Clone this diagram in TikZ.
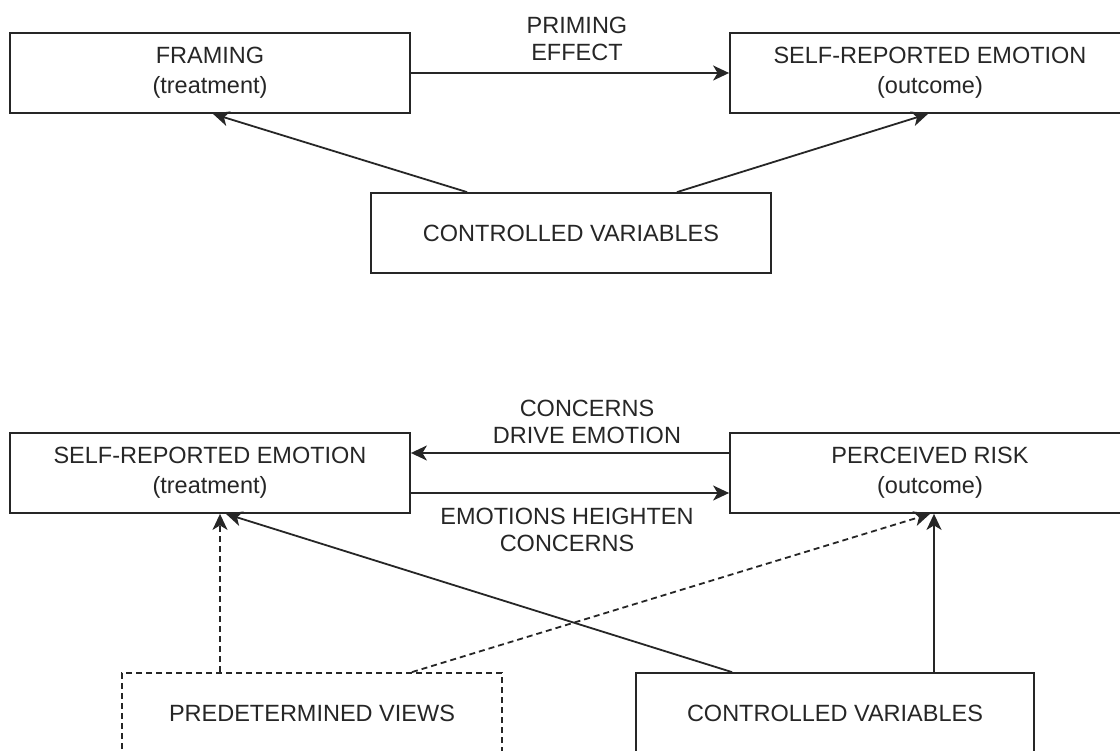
\documentclass[tikz,border=0pt]{standalone}
\usepackage{fontspec}
\setmainfont{Liberation Sans}
\usetikzlibrary{arrows.meta,calc}
\definecolor{ink}{HTML}{262626}
\begin{document}
\begin{tikzpicture}[x=1pt,y=-1pt,
  box/.style={draw=ink,line width=1.8pt,rectangle,minimum width=400pt,minimum height=80pt,
    align=center,inner sep=0pt,text=ink,font=\fontsize{23.5}{30}\selectfont},
  lbl/.style={align=center,text=ink,font=\fontsize{23.5}{27}\selectfont,inner sep=0pt},
  link/.style={draw=ink,line width=1.8pt,-{Stealth[length=16pt,width=15pt,inset=4.5pt]}},
  dlink/.style={link,dash pattern=on 6pt off 4pt}]
\useasboundingbox (0,0) rectangle (1120,751);
\clip (0,0) rectangle (1120,751);
\fill[white] (0,0) rectangle (1120,751);

% first model
\node[box] (frame) at (210,73) {FRAMING\\(treatment)};
\node[box] (emo1) at (930,73) {SELF-REPORTED EMOTION\\(outcome)};
\node[box] (cv1) at (571,233) {CONTROLLED VARIABLES};
\draw[link] (frame.east) -- (emo1.west);
\node[lbl] (prime) at (577,39) {PRIMING\\EFFECT};
\draw[link] ([xshift=-104pt]cv1.north) -- ([xshift=3pt]frame.south);
\draw[link] ([xshift=106pt]cv1.north) -- ([xshift=-2pt]emo1.south);

% second model
\node[box] (emo2) at (210,473) {SELF-REPORTED EMOTION\\(treatment)};
\node[box] (risk) at (930,473) {PERCEIVED RISK\\(outcome)};
\node[box,dashed,dash pattern=on 6pt off 4pt,minimum width=380pt] (pre) at (312,713) {PREDETERMINED VIEWS};
\node[box,minimum width=398pt] (cv2) at (835,713) {CONTROLLED VARIABLES};
\draw[link] ([yshift=20pt]risk.west) -- ([yshift=20pt]emo2.east);
\draw[link] ([yshift=-20pt]emo2.east) -- ([yshift=-20pt]risk.west);
\node[lbl] (drive) at (587,422) {CONCERNS\\DRIVE EMOTION};
\node[lbl] (heighten) at (567,530) {EMOTIONS HEIGHTEN\\CONCERNS};
\draw[dlink] ([xshift=-92pt]pre.north) -- ([xshift=10pt]emo2.south);
\draw[dlink] ([xshift=100pt]pre.north) -- ([xshift=0pt]risk.south);
\draw[link] ([xshift=-103pt]cv2.north) -- ([xshift=16pt]emo2.south);
\draw[link] ([xshift=99pt]cv2.north) -- ([xshift=4pt]risk.south);
\end{tikzpicture}
\end{document}
